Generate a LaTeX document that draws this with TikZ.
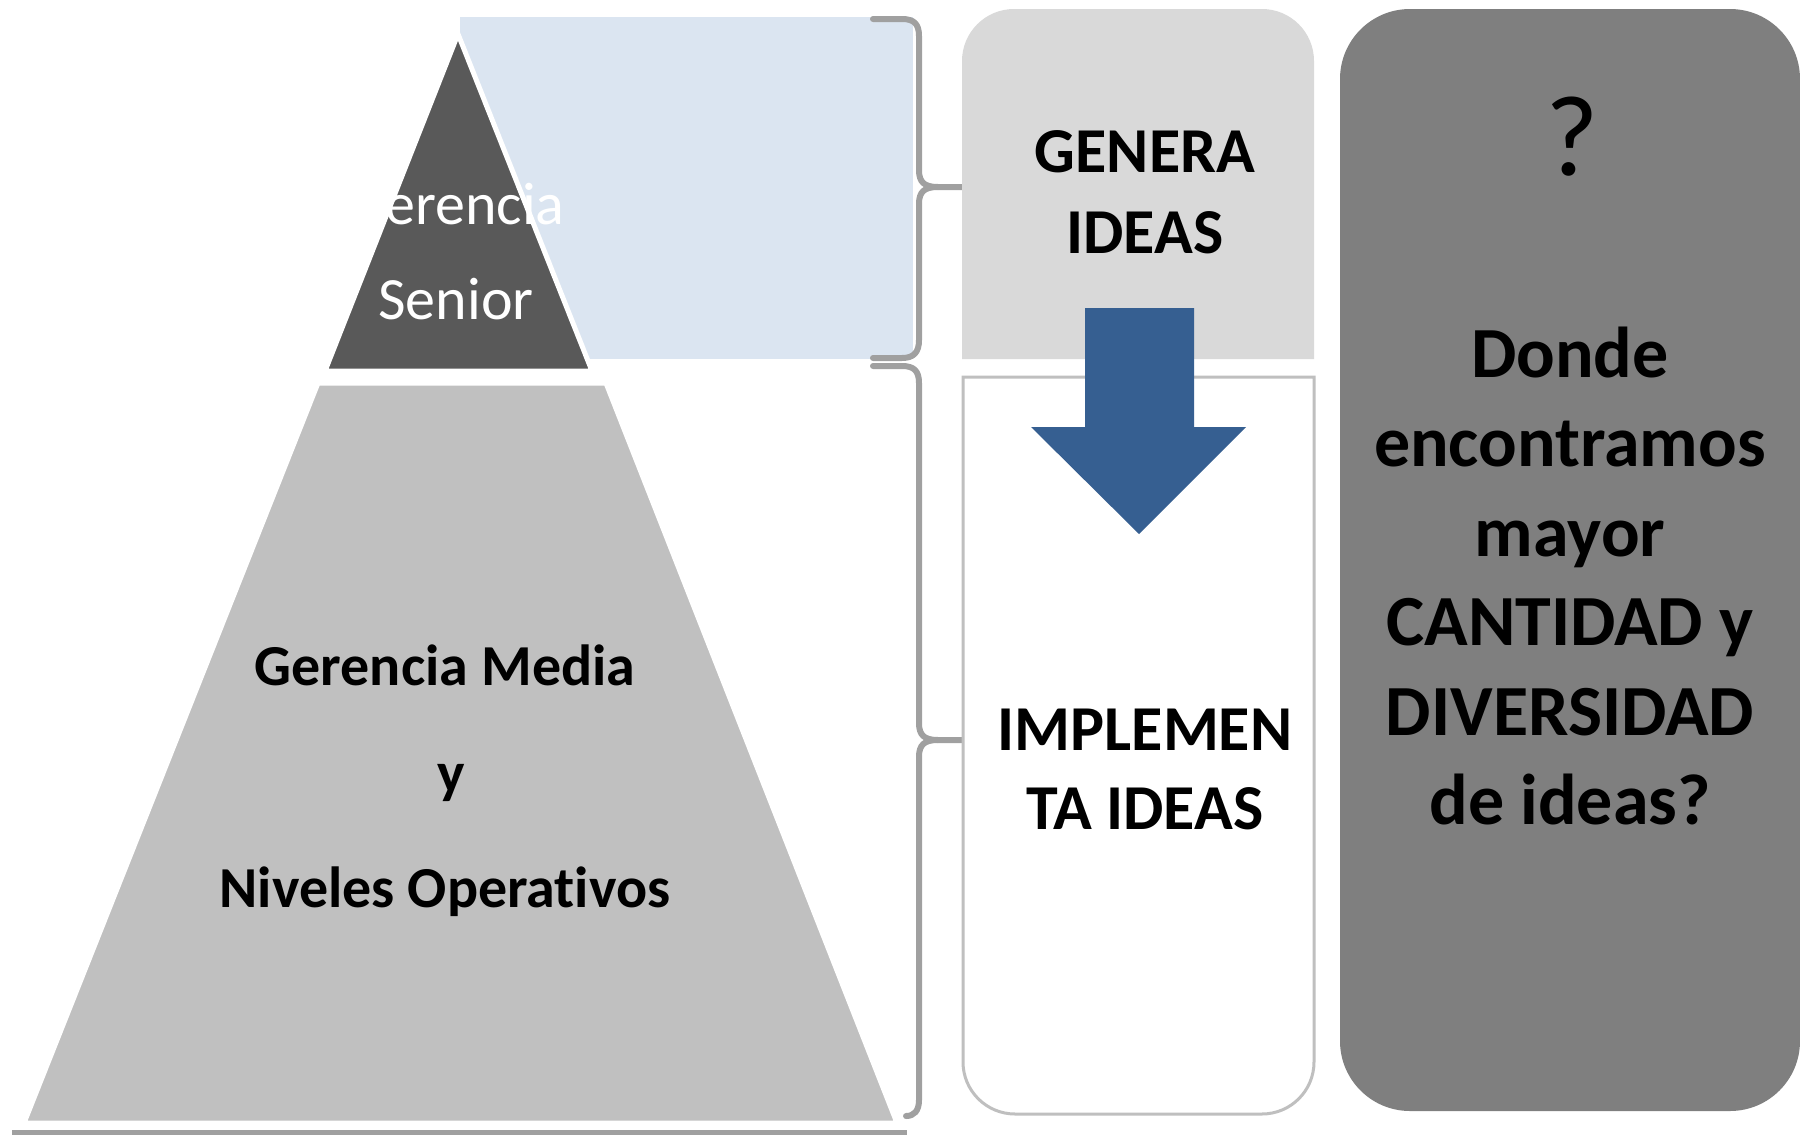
\documentclass[tikz,border=0pt]{standalone}
\usepackage{fontspec}
\setmainfont{Carlito}[Ligatures=NoCommon]
\definecolor{pyrdark}{HTML}{595959}
\definecolor{pyrlight}{HTML}{C0C0C0}
\definecolor{paleblue}{HTML}{DBE5F1}
\definecolor{genfill}{HTML}{D9D9D9}
\definecolor{boxline}{HTML}{BFBFBF}
\definecolor{qfill}{HTML}{7F7F7F}
\definecolor{arrowblue}{HTML}{365F91}
\definecolor{bracegray}{HTML}{A0A0A0}
\definecolor{basegray}{HTML}{A0A0A0}
\begin{document}
\begin{tikzpicture}[x=1pt,y=-1pt,
  level/.style={draw=white, line width=5pt, line join=miter},
  bracestyle/.style={draw=bracegray, line width=6pt, line join=round, line cap=round},
  bigbold/.style={anchor=base, inner sep=0pt, text=black, font=\fontsize{64pt}{78pt}\selectfont\bfseries},
  qbold/.style={anchor=base, inner sep=0pt, text=black, font=\fontsize{72pt}{88pt}\selectfont\bfseries},
  pyrbold/.style={anchor=base, inner sep=0pt, text=black, font=\fontsize{58pt}{70pt}\selectfont\bfseries},
  pyrwhite/.style={anchor=base, inner sep=0pt, text=white, font=\fontsize{60pt}{72pt}\selectfont},
  qstyle/.style={fill=qfill, rounded corners=70pt, inner sep=0pt, minimum width=460pt, minimum height=1102pt}
]
\useasboundingbox (0,0) rectangle (1800,1138);

% pale blue band behind the top level
\fill[paleblue] (460,17) rectangle (913,359);

% pyramid
\filldraw[level, fill=pyrdark] (458,34) -- (592,371) -- (325,371) -- cycle;
\filldraw[level, fill=pyrlight] (318,383) -- (606,383) -- (897,1123) -- (24,1123) -- cycle;
\draw[draw=basegray, line width=5pt] (12,1132) -- (907,1132);

% braces
\draw[bracestyle] (873,19) -- (902,19) .. controls (914,19) and (919,24) .. (919,36) -- (919,170) .. controls (919,182) and (924,187) .. (938,187) -- (976,187);
\draw[bracestyle] (938,187) .. controls (924,187) and (919,192) .. (919,204) -- (919,340) .. controls (919,352) and (914,358) .. (902,358) -- (873,358);
\draw[bracestyle] (873,366) -- (902,366) .. controls (914,366) and (919,371) .. (919,383) -- (919,723) .. controls (919,735) and (924,740) .. (938,740) -- (976,740);
\draw[bracestyle] (938,740) .. controls (924,740) and (919,745) .. (919,757) -- (919,1100) .. controls (919,1111) and (914,1116) .. (906,1116);

% GENERA IDEAS box
\fill[genfill] (962,359) -- (962,61) arc[start angle=180, end angle=270, radius=52] -- (1262,9) arc[start angle=270, end angle=360, radius=52] -- (1314,359) -- cycle;

% IMPLEMENTA IDEAS box
\draw[draw=boxline, fill=white, line width=3pt] (963,377) -- (963,1062) arc[start angle=180, end angle=90, radius=52] -- (1262,1114) arc[start angle=90, end angle=0, radius=52] -- (1314,377) -- cycle;

% arrow
\fill[arrowblue] (1085,308) -- (1194,308) -- (1194,427) -- (1246,427) -- (1139,534) -- (1031,427) -- (1085,427) -- cycle;

% question box
\node[qstyle] (qbox) at (1570,560) {};

% texts
\node[pyrwhite] (gs1) at (456,224) {Gerencia};
\node[pyrwhite] (gs2) at (456,319) {Senior};

\node[pyrbold] (gm1) at (445,685) {Gerencia Media};
\node[pyrbold] (gm2) at (451,792) {y};
\node[pyrbold] (gm3) at (445,907) {Niveles Operativos};

\node[bigbold] (ge1) at (1145,172) {GENERA};
\node[bigbold] (ge2) at (1145,253) {IDEAS};

\node[bigbold] (im1) at (1145,750) {IMPLEMEN};
\node[bigbold] (im2) at (1145,829) {TA IDEAS};

\node[anchor=base, inner sep=0pt, text=black, font=\fontsize{115pt}{130pt}\selectfont] (qm) at (1572,175) {?};
\node[qbold] (d1) at (1570,377) {Donde};
\node[qbold] (d2) at (1570,466) {encontramos};
\node[qbold] (d3) at (1570,556) {mayor};
\node[qbold] (d4) at (1570,645) {CANTIDAD y};
\node[qbold] (d5) at (1570,735) {DIVERSIDAD};
\node[qbold] (d6) at (1570,824) {de ideas?};
\end{tikzpicture}
\end{document}
